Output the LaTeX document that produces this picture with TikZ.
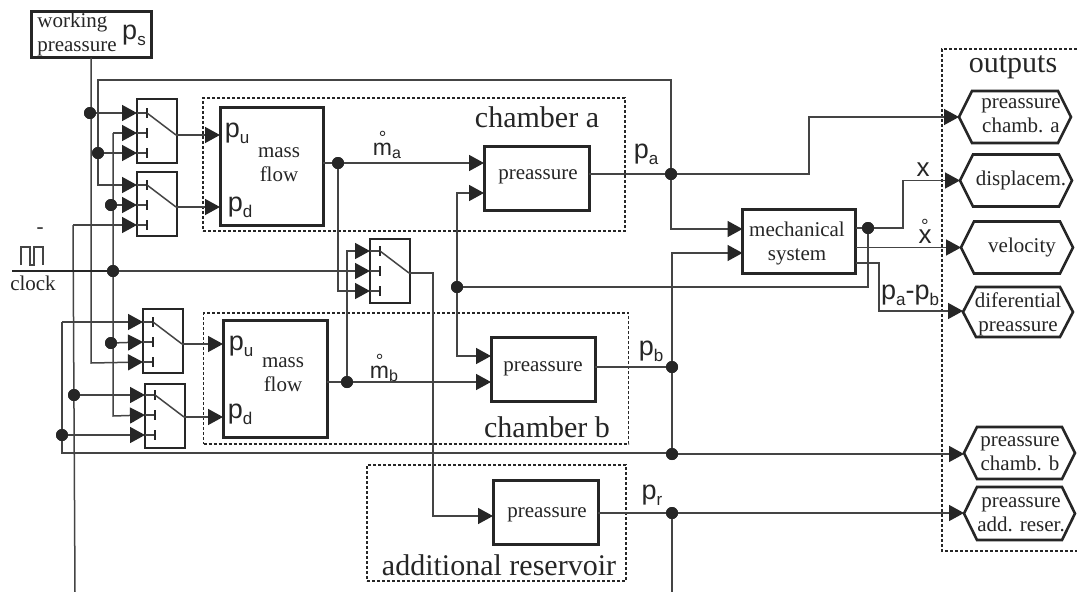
\documentclass[tikz,border=0pt]{standalone}
\usepackage{fontspec}
\setmainfont{Liberation Serif}
\newfontfamily\lsans{Liberation Sans}
\usetikzlibrary{arrows.meta,calc}
\definecolor{ink}{HTML}{262626}
\definecolor{wire}{HTML}{444444}
\newcommand\pl[1]{{\lsans\fontsize{27}{27}\selectfont p\raisebox{-6pt}{\fontsize{17}{17}\selectfont #1}}}
\newcommand\ringed[1]{\leavevmode\setbox0=\hbox{#1}\rlap{\hbox to\wd0{\hss\raisebox{10.5pt}{\fontsize{19}{19}\selectfont °}\hss}}\box0}
\tikzset{
  wireline/.style={draw=wire,line width=1.5pt},
  inarrow/.style={wireline,-{Triangle[length=15pt,width=16pt,color=ink]}},
  junction/.style={circle,fill=ink,inner sep=0pt,minimum size=12pt},
  thickbox/.style={draw=ink,line width=3pt,inner sep=0pt,outer sep=0pt,fill=white},
  switchbox/.style={draw=ink,line width=2pt,inner sep=0pt,outer sep=0pt,minimum width=40pt,minimum height=64pt},
  dashbox/.style={draw=ink,line width=1.6pt,dash pattern=on 3pt off 2pt,inner sep=0pt,outer sep=0pt},
  outframe/.style={inner sep=0pt,outer sep=0pt},
  outline/.style={draw=ink,line width=2.6pt,line join=miter,fill=white},
  smalltext/.style={font=\fontsize{21}{24}\selectfont,text=ink,align=center,inner sep=0pt},
  bigtext/.style={font=\fontsize{30}{32}\selectfont,text=ink,inner sep=0pt},
  sym/.style={text=ink,inner sep=0pt}
}
% name, left x, top y, first input offset
\newcommand\switchunit[4]{%
  \node[switchbox] (#1) at (#2+20,#3+32) {};
  \coordinate (#1-i1) at (#2,#3+#4);
  \coordinate (#1-i2) at (#2,#3+#4+20);
  \coordinate (#1-i3) at (#2,#3+#4+40);
  \coordinate (#1-o) at (#2+39,#3+#4+22);
  \foreach \k in {1,2,3} {
    \draw[wireline] (#1-i\k) -- ++(10,0);
    \draw[ink,line width=1.8pt] ($(#1-i\k)+(10,-5)$) -- ++(0,10);
  }
  \draw[wireline] (#2+10,#3+#4) -- (#1-o);
}
% name, centre x, centre y, width, height
\newcommand\hexout[5]{%
  \node[outframe,minimum width=#4pt,minimum height=#5pt] (#1) at (#2,#3) {};
  \draw[outline] (#1.west) -- ($(#1.north west)+(13,0)$) -- ($(#1.north east)+(-13,0)$) -- (#1.east) -- ($(#1.south east)+(-13,0)$) -- ($(#1.south west)+(13,0)$) -- cycle;
}
\begin{document}
\begin{tikzpicture}[x=1pt,y=-1pt]
\useasboundingbox (0,0) rectangle (1077,592);
\fill[white] (0,0) rectangle (1077,592);

% dashed groups
\node[dashbox,minimum width=422pt,minimum height=133pt] (chamberA) at (414,164.5) {};
\node[dashbox,minimum width=425pt,minimum height=131pt] (chamberB) at (416,378.5) {};
\node[dashbox,minimum width=259pt,minimum height=116pt] (reservoir) at (496.5,523) {};
\draw[ink,line width=1.6pt,dash pattern=on 3pt off 2pt] (1077,49) -- (942,49) -- (942,551) -- (1077,551);

% blocks
\node[thickbox,minimum width=120pt,minimum height=46pt] (working) at (91,34.5) {};
\node[thickbox,minimum width=103pt,minimum height=118pt] (massA) at (271.5,166) {};
\node[thickbox,minimum width=104pt,minimum height=117pt] (massB) at (275,378.5) {};
\node[thickbox,minimum width=105pt,minimum height=64pt] (pressA) at (536.5,178) {};
\node[thickbox,minimum width=104pt,minimum height=64pt] (pressB) at (543,369) {};
\node[thickbox,minimum width=105pt,minimum height=64pt] (pressR) at (545.5,512) {};
\node[thickbox,minimum width=113pt,minimum height=64pt] (mech) at (799,241) {};

\hexout{outA}{1015}{117}{112}{52}
\hexout{outX}{1016}{180.5}{112}{52}
\hexout{outV}{1017}{247.5}{112}{52}
\hexout{outD}{1018}{312}{110}{50}
\hexout{outB}{1019.5}{453}{111}{52}
\hexout{outR}{1019.5}{513.5}{111}{53}

% switches
\switchunit{swA}{137}{99}{14}
\switchunit{swB}{137}{172}{13}
\switchunit{swC}{143}{309}{13}
\switchunit{swD}{145}{384}{11}
\switchunit{swM}{370}{239}{12}

% junctions
\node[junction] (jPs) at (90,113) {};
\node[junction] (jLoop) at (98,153) {};
\node[junction] (jSB2) at (111,205) {};
\node[junction] (jClock) at (113,271) {};
\node[junction] (jSC2) at (111,343) {};
\node[junction] (jSD1) at (74,395) {};
\node[junction] (jSD3) at (62,435) {};
\node[junction] (jMa) at (338,163) {};
\node[junction] (jMb) at (347,382) {};
\node[junction] (jPa) at (671,174) {};
\node[junction] (jPb) at (672,367) {};
\node[junction] (jPc) at (672,454) {};
\node[junction] (jPr) at (672,513) {};
\node[junction] (jDiff) at (457,287) {};
\node[junction] (jX) at (868,228) {};

% free ends
\coordinate (clockStart) at (12,271);
\coordinate (botLeft) at (75,592);
\coordinate (botRight) at (672,592);

% working pressure trunk and loop
\draw[inarrow] (working.south) -- (91,363) -- (swC-i3);
\draw[inarrow] (jPs) -- (swA-i1);
\draw[inarrow] (jPa) |- (98,80) |- (swB-i1);
\draw[inarrow] (jLoop) -- (swA-i3);

% second collector
\draw[inarrow] (113,133) -- (swA-i2);
\draw[inarrow] (113,133) -- (113,416) -- (swD-i2);
\draw[inarrow] (jSB2) -- (swB-i2);
\draw[inarrow] (jSC2) -- (swC-i2);

% third collector
\draw[inarrow] (73,225) -- (swB-i3);
\draw[wireline] (73,225) -- (botLeft);
\draw[inarrow] (jSD1) -- (swD-i1);

% fourth collector
\draw[inarrow] (62,322) -- (swC-i1);
\draw[wireline] (62,322) -- (62,453) -- (672,453);
\draw[inarrow] (jSD3) -- (swD-i3);
\draw[inarrow] (jPc) -- (outB.west |- jPc);

% clock
\draw[ink,line width=1.8pt] (clockStart) -- (jClock);
\draw[inarrow] (jClock) -- (swM-i2);
\draw[wire,line width=1.6pt] (21,265) -- (21,247) -- (30,247) -- (30,265) -- (34,265) -- (34,247) -- (43,247) -- (43,265);

% switch outputs
\draw[inarrow] (swA-o) -- (massA.west |- swA-o);
\draw[inarrow] (swB-o) -- (massA.west |- swB-o);
\draw[inarrow] (swC-o) -- (massB.west |- swC-o);
\draw[inarrow] (swD-o) -- (massB.west |- swD-o);

% mass flows
\draw[wireline] (massA.east |- jMa) -- (jMa);
\draw[inarrow] (jMa) -- (pressA.west |- jMa);
\draw[inarrow] (jMa) |- (swM-i3);
\draw[wireline] (massB.east |- jMb) -- (jMb);
\draw[inarrow] (jMb) -- (pressB.west |- jMb);
\draw[inarrow] (jMb) |- (swM-i1);
\draw[inarrow] (swM-o) -| (433,516) -- (pressR.west |- 0,516);

% pressure feedback
\draw[inarrow] (jDiff) |- (pressA.west |- 0,193);
\draw[inarrow] (jDiff) |- (pressB.west |- 0,356);
\draw[wireline] (jDiff) -- (868,287) -- (jX);

% pressure outputs
\draw[wireline] (pressA.east |- jPa) -- (jPa);
\draw[wireline] (pressB.east |- jPb) -- (jPb);
\draw[wireline] (pressR.east |- jPr) -- (jPr);
\draw[inarrow] (jPa) -- (809,174) -- (809,117) -- (outA.west);
\draw[inarrow] (jPa) |- (mech.west |- 0,229);
\draw[inarrow] (jPb) |- (mech.west |- 0,253);
\draw[wireline] (jPb) -- (jPc);
\draw[inarrow] (jPr) -- (outR.west |- jPr);
\draw[wireline] (jPr) -- (botRight);

% mechanical outputs
\draw[wireline] (mech.east |- jX) -- (jX);
\draw[inarrow] (jX) -- (903,228) -- (903,180.5) -- (outX.west);
\draw[inarrow] (mech.east |- 0,247.5) -- (outV.west);
\draw[inarrow] (mech.east |- 0,263) -- (879,263) -- (879,311) -- (outD.west |- 0,311);

% redraw junctions over wires
\foreach \j in {jPs,jLoop,jSB2,jClock,jSC2,jSD1,jSD3,jMa,jMb,jPa,jPb,jPc,jPr,jDiff,jX}
  \fill[ink] (\j) circle (6pt);

% texts
\node[smalltext,align=left] (tWorking) at (77,34) {working\\preassure};
\node[sym] (tPs) at (134,35) {\pl{s}};
\node[smalltext] (tMassA) at (279,165) {mass\\flow};
\node[smalltext] (tMassB) at (283,375) {mass\\flow};
\node[sym] (tPua) at (237,133) {\pl{u}};
\node[sym] (tPda) at (240,207) {\pl{d}};
\node[sym] (tPub) at (241,346) {\pl{u}};
\node[sym] (tPdb) at (240,414) {\pl{d}};
\node[smalltext] (tPressA) at (538,177) {preassure};
\node[smalltext] (tPressB) at (543,369) {preassure};
\node[smalltext] (tPressR) at (547,515) {preassure};
\node[smalltext] (tMech) at (797,243) {mechanical\\system};
\node[sym] (tPa) at (646,154) {\pl{a}};
\node[sym] (tPb) at (651,351) {\pl{b}};
\node[sym] (tPr) at (652,495) {\pl{r}};
\node[sym,anchor=base] (tMa) at (387,155) {\lsans\fontsize{23}{23}\selectfont\ringed{m}\raisebox{-3pt}{\fontsize{16}{16}\selectfont a}};
\node[sym,anchor=base] (tMb) at (384,378) {\lsans\fontsize{23}{23}\selectfont\ringed{m}\raisebox{-3pt}{\fontsize{16}{16}\selectfont b}};
\node[sym,anchor=base] (tX) at (923,176) {\lsans\fontsize{26}{26}\selectfont x};
\node[sym,anchor=base] (tXd) at (925,243) {\lsans\fontsize{26}{26}\selectfont\ringed{x}};
\node[sym] (tDp) at (910,295) {\pl{a}{\lsans\fontsize{27}{27}\selectfont -}\pl{b}};
\node[bigtext] (tChA) at (537,117) {chamber a};
\node[bigtext] (tChB) at (547,427) {chamber b};
\node[bigtext] (tRes) at (499,565) {additional reservoir};
\node[bigtext] (tOut) at (1013,67) {outputs};
\node[smalltext] (tClock) at (33,283) {clock};
\node[smalltext] (tDash) at (40,231) {-};
\node[smalltext] (tOutA) at (1021,116) {preassure\\chamb. a};
\node[smalltext] (tOutX) at (1021,180) {displacem.};
\node[smalltext] (tOutV) at (1022,247) {velocity};
\node[smalltext] (tOutD) at (1018,314) {diferential\\preassure};
\node[smalltext] (tOutB) at (1020,454) {preassure\\chamb. b};
\node[smalltext] (tOutR) at (1021,515) {preassure\\add. reser.};
\end{tikzpicture}
\end{document}
